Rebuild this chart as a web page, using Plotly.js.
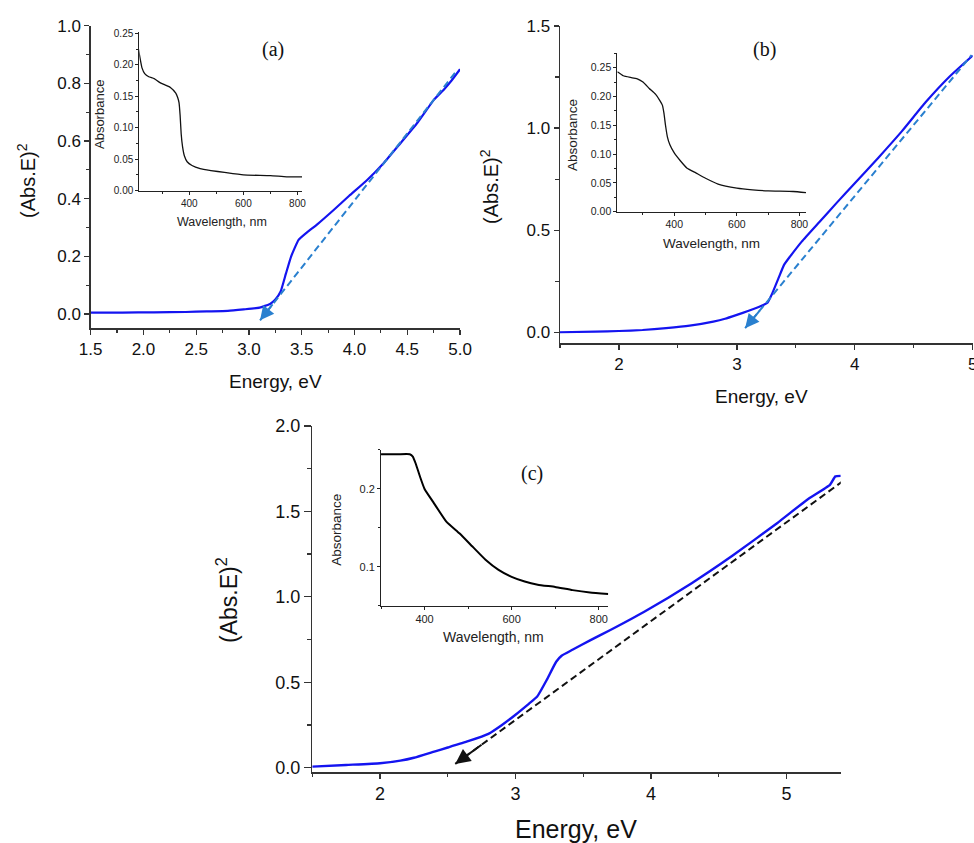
<!DOCTYPE html>
<html>
<head>
<meta charset="utf-8">
<script src="https://cdn.plot.ly/plotly-3.0.1.min.js"></script>
<style>html,body{margin:0;padding:0;background:#fff}#chart{width:974px;height:843px}</style>
</head>
<body>
<div id="chart"></div>
<script>
// ---- Panel (a) main: (Abs.E)^2 vs Energy ----
const energyA = [1.5,1.8,2.1,2.4,2.6,2.8,2.95,3.1,3.2,3.25,3.3,3.35,3.4,3.47,3.55,3.65,3.8,3.95,4.12,4.28,4.43,4.6,4.75,4.85,4.92,5.0];
const absEA   = [0.005,0.005,0.006,0.007,0.009,0.011,0.016,0.022,0.035,0.05,0.078,0.14,0.2,0.257,0.283,0.312,0.36,0.41,0.465,0.525,0.59,0.665,0.742,0.78,0.81,0.849];
const fitEA = [3.105, 4.96];
const fitYA = [-0.022, 0.84];
// ---- Panel (a) inset: absorbance vs wavelength ----
const wlA  = [212,218,225,235,250,270,290,310,330,350,357,362,366,370,375,382,392,410,440,480,530,600,700,760,817];
const absA = [0.225,0.21,0.195,0.186,0.181,0.178,0.172,0.168,0.164,0.155,0.148,0.14,0.12,0.09,0.07,0.055,0.046,0.04,0.035,0.032,0.029,0.025,0.024,0.022,0.022];

// ---- Panel (b) main ----
const energyB = [1.5,1.8,2.0,2.2,2.4,2.6,2.8,2.9,3.0,3.1,3.2,3.26,3.3,3.35,3.4,3.45,3.55,3.7,3.85,4.0,4.2,4.4,4.6,4.8,5.0];
const absEB   = [0.0,0.003,0.006,0.011,0.02,0.032,0.052,0.066,0.085,0.105,0.127,0.145,0.19,0.26,0.33,0.37,0.444,0.54,0.636,0.73,0.855,0.985,1.126,1.25,1.355];
const fitEB = [3.07, 4.99];
const fitYB = [0.02, 1.357];
// ---- Panel (b) inset ----
const wlB  = [218,237,260,280,300,320,340,355,362,367,372,378,386,400,420,440,470,500,540,600,650,700,780,821];
const absB = [0.243,0.236,0.233,0.231,0.225,0.214,0.204,0.192,0.185,0.171,0.15,0.13,0.116,0.102,0.088,0.076,0.067,0.058,0.048,0.041,0.038,0.036,0.035,0.033];

// ---- Panel (c) main ----
const energyC = [1.5,1.75,2.0,2.15,2.25,2.4,2.5,2.65,2.8,2.9,3.0,3.1,3.16,3.23,3.3,3.34,3.42,3.55,3.7,3.95,4.3,4.6,4.93,5.15,5.32,5.36,5.4];
const absEC   = [0.006,0.016,0.026,0.041,0.058,0.094,0.118,0.155,0.198,0.25,0.31,0.375,0.416,0.513,0.62,0.655,0.69,0.745,0.806,0.913,1.08,1.24,1.431,1.567,1.655,1.705,1.708];
const fitEC = [2.555, 5.49];
const fitYC = [0.022, 1.72];
// ---- Panel (c) inset ----
const wlC  = [300,320,340,366,373,380,390,400,420,450,480,510,540,570,600,630,660,700,740,780,822];
const absC = [0.2446,0.2446,0.2446,0.2446,0.2416,0.232,0.215,0.2,0.183,0.158,0.143,0.126,0.109,0.096,0.087,0.081,0.077,0.074,0.070,0.067,0.065];

const blue = '#1414f0';
const fitBlue = '#2a80cf';
const sans = 'Liberation Sans, Arial, sans-serif';
const serif = 'Liberation Serif, Times New Roman, serif';

function line(x, y, xa, ya, color, width, dash, smooth) {
  const ln = {color: color, width: width, dash: dash || 'solid'};
  if (smooth) { ln.shape = 'spline'; ln.smoothing = smooth; }
  return {x: x, y: y, xaxis: xa, yaxis: ya, type: 'scatter', mode: 'lines',
          line: ln, hoverinfo: 'skip', showlegend: false, cliponaxis: false};
}

const traces = [
  line(energyA, absEA, 'x', 'y', blue, 2.2, null, 0.4),
  line(fitEA, fitYA, 'x', 'y', fitBlue, 2, '7px,4px'),
  line(wlA, absA, 'x2', 'y2', '#111', 1.3, null, 0.4),
  line(energyB, absEB, 'x3', 'y3', blue, 2.2, null, 0.4),
  line(fitEB, fitYB, 'x3', 'y3', fitBlue, 2, '7px,4px'),
  line(wlB, absB, 'x4', 'y4', '#111', 1.3, null, 0.4),
  line(energyC, absEC, 'x5', 'y5', blue, 2.4, null, 0.4),
  line(fitEC, fitYC, 'x5', 'y5', '#111', 2, '7px,4px'),
  line(wlC, absC, 'x6', 'y6', '#000', 2, null, 0.4)
];

function mainAxis(domain, range, dtick, minorDtick, fmt, fs, len, mlen, anchor) {
  return {domain: domain, range: range, anchor: anchor, showgrid: false, zeroline: false,
          showline: true, linecolor: '#333', linewidth: 1.4, ticks: 'outside',
          ticklen: len, tickwidth: 1.3, tickcolor: '#333', dtick: dtick, tick0: 0,
          tickformat: fmt, tickfont: {family: sans, size: fs, color: '#111'},
          ticklabeloverflow: 'allow',
          minor: {ticks: 'outside', ticklen: mlen, tickwidth: 1.2, tickcolor: '#333', dtick: minorDtick, tick0: 0},
          fixedrange: true};
}
function insetAxis(domain, range, dtick, minorDtick, fmt, fs, anchor, tick0) {
  return {domain: domain, range: range, anchor: anchor, showgrid: false, zeroline: false,
          showline: true, linecolor: '#222', linewidth: 1, ticks: 'outside',
          ticklen: 3, tickwidth: 1, tickcolor: '#222', dtick: dtick, tick0: tick0 || 0,
          tickformat: fmt, tickfont: {family: sans, size: fs, color: '#222'},
          minor: {ticks: 'outside', ticklen: 2, tickwidth: 1, tickcolor: '#222', dtick: minorDtick, tick0: tick0 || 0},
          fixedrange: true};
}

function arrow(fx, fy, xa, ya, color, size) {
  const f = 0.07;
  return {x: fx[0], y: fy[0], xref: xa, yref: ya, axref: xa, ayref: ya,
          ax: fx[0] + f * (fx[1] - fx[0]), ay: fy[0] + f * (fy[1] - fy[0]),
          text: '', showarrow: true, arrowhead: 2, arrowsize: size, arrowwidth: 2, arrowcolor: color};
}
function txt(text, x, y, size, family, angle, color) {
  return {text: text, x: x, y: y, xref: 'paper', yref: 'paper', showarrow: false,
          xanchor: 'center', yanchor: 'middle', textangle: angle || 0,
          font: {family: family, size: size, color: color || '#111'}};
}

const layout = {
  width: 974, height: 843,
  margin: {l: 0, r: 0, t: 0, b: 0},
  paper_bgcolor: '#fff', plot_bgcolor: 'rgba(0,0,0,0)',
  showlegend: false,
  xaxis:  mainAxis([0.0931, 0.4723], [1.5, 5.0], 0.5, 0.25, '.1f', 17, 5, 3.5, 'y'),
  yaxis:  mainAxis([0.6104, 0.9695], [-0.05, 1.0], 0.2, 0.1, '.1f', 17, 5, 3.5, 'x'),
  xaxis2: insetAxis([0.1430, 0.3101], [215, 817], 200, 100, 'd', 10, 'y2'),
  yaxis2: insetAxis([0.7738, 0.9624], [0, 0.2525], 0.05, 0.025, '.2f', 10, 'x2'),
  xaxis3: mainAxis([0.5749, 0.9987], [1.5, 5.0], 1, 0.5, 'd', 17, 5, 3.5, 'y3'),
  yaxis3: mainAxis([0.5928, 0.9692], [-0.054, 1.5], 0.5, 0.25, '.1f', 17, 5, 3.5, 'x3'),
  xaxis4: insetAxis([0.6338, 0.8275], [218, 821], 200, 100, 'd', 10.5, 'y4'),
  yaxis4: insetAxis([0.7489, 0.9368], [0, 0.275], 0.05, 0.025, '.2f', 10.5, 'x4'),
  xaxis5: mainAxis([0.3206, 0.8632], [1.5, 5.4], 1, 0.5, 'd', 18, 5, 3, 'y5'),
  yaxis5: mainAxis([0.0839, 0.4947], [-0.027, 2.0], 0.5, 0.25, '.1f', 18, 7, 4, 'x5'),
  xaxis6: insetAxis([0.3912, 0.6245], [300, 822], 200, 100, 'd', 11, 'y6'),
  yaxis6: insetAxis([0.2815, 0.4662], [0.05, 0.25], 0.1, 0.05, '.1f', 11, 'x6'),
  annotations: [
    arrow(fitEA, fitYA, 'x', 'y', fitBlue, 1.4),
    arrow(fitEB, fitYB, 'x3', 'y3', fitBlue, 1.4),
    arrow(fitEC, fitYC, 'x5', 'y5', '#111', 1.5),
    txt('(a)', 0.2803, 0.9407, 20, serif),
    txt('(b)', 0.7854, 0.9407, 20, serif),
    txt('(c)', 0.5459, 0.4386, 20, serif),
    txt('(Abs.E)<sup>2</sup>', 0.0277, 0.7865, 20, sans, -90),
    txt('Energy, eV', 0.2829, 0.548, 19, sans),
    txt('(Abs.E)<sup>2</sup>', 0.5031, 0.7782, 20, sans, -90),
    txt('Energy, eV', 0.7823, 0.5302, 19, sans),
    txt('(Abs.E)<sup>2</sup>', 0.2331, 0.2883, 23, sans, -90),
    txt('Energy, eV', 0.5914, 0.0166, 25, sans),
    txt('Absorbance', 0.1027, 0.8636, 13, sans, -90, '#222'),
    txt('Wavelength, nm', 0.2279, 0.7367, 12.5, sans, 0, '#222'),
    txt('Absorbance', 0.5883, 0.8399, 13.5, sans, -90, '#222'),
    txt('Wavelength, nm', 0.7310, 0.7117, 13.5, sans, 0, '#222'),
    txt('Absorbance', 0.3457, 0.3713, 13.5, sans, -90, '#222'),
    txt('Wavelength, nm', 0.5062, 0.2444, 14, sans, 0, '#222')
  ]
};

Plotly.newPlot('chart', traces, layout, {displayModeBar: false, staticPlot: true});
</script>
</body>
</html>
